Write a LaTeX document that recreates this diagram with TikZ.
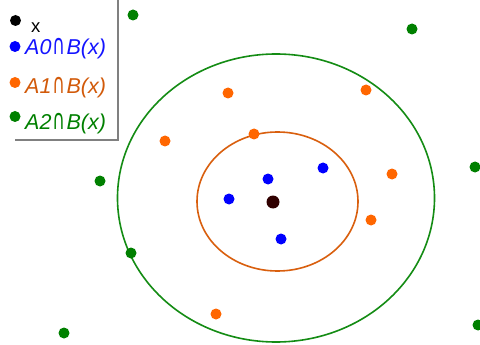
\documentclass[tikz,border=0pt]{standalone}
\usepackage{fontspec}
\usepackage{graphicx}
\setmainfont{Liberation Sans}
\newfontfamily\capfont{DejaVu Sans}
\newcommand{\mycap}{{\capfont\upshape\kern1pt\scalebox{0.8}[1.3]{∩}\kern1.5pt}}
\begin{document}
\begin{tikzpicture}[x=1pt,y=-1pt,
  dot/.style={circle,inner sep=0pt,minimum size=11pt},
  bdot/.style={dot,fill=blue},
  odot/.style={dot,fill=orangeA},
  gdot/.style={dot,fill=greenA},
  lab/.style={anchor=base west,inner sep=0pt,font=\fontsize{21.5}{21.5}\selectfont\itshape}]
\definecolor{orangeA}{RGB}{255,102,0}
\definecolor{orangeL}{RGB}{217,95,14}
\definecolor{orangeT}{RGB}{210,90,10}
\definecolor{greenA}{RGB}{0,128,0}
\definecolor{greenL}{RGB}{20,140,20}
\definecolor{blueT}{RGB}{20,20,255}
\definecolor{legline}{RGB}{128,128,128}
\path[use as bounding box,fill=white] (0,0) rectangle (480,345);
% circles
\draw[greenL,line width=1.6pt] (276,198) ellipse [x radius=158.5,y radius=144];
\draw[orangeL,line width=1.6pt] (277.5,201.5) ellipse [x radius=80.5,y radius=69.5];
% center
\node[dot,minimum size=13pt,fill={rgb,255:red,48;green,0;blue,0}] (c) at (273,202) {};
% blue points
\node[bdot] (b1) at (268,179) {};
\node[bdot] (b2) at (229,199) {};
\node[bdot] (b3) at (323,168) {};
\node[bdot] (b4) at (281,239) {};
% orange points
\node[odot] (o1) at (228,93) {};
\node[odot] (o2) at (366,90) {};
\node[odot] (o3) at (165,141) {};
\node[odot] (o4) at (254,134) {};
\node[odot] (o5) at (392,174) {};
\node[odot] (o6) at (371,220) {};
\node[odot] (o7) at (216,314) {};
% green points
\node[gdot] (g1) at (133,15) {};
\node[gdot] (g2) at (412,29) {};
\node[gdot] (g3) at (475,167) {};
\node[gdot] (g4) at (100,181) {};
\node[gdot] (g5) at (131,253) {};
\node[gdot] (g6) at (64,333) {};
\node[gdot] (g7) at (478,325) {};
% legend
\coordinate (lt) at (118,0);
\coordinate (lc) at (118,140);
\coordinate (lb) at (15,140);
\draw[legline,line width=1.2pt] (lt) -- (lc) -- (lb);
\node[dot,fill=black] (k0) at (15.5,20.5) {};
\node[anchor=base west,inner sep=0pt,font=\fontsize{18.5}{18.5}\selectfont] (t0) at (31,33) {x};
\node[bdot] (k1) at (15,46.5) {};
\node[lab,text=blueT] (t1) at (25,55) {A0\mycap B(x)};
\node[odot] (k2) at (15,82.5) {};
\node[lab,text=orangeT] (t2) at (25,94) {A1\mycap B(x)};
\node[gdot] (k3) at (15,116.5) {};
\node[lab,text=greenA] (t3) at (25,129) {A2\mycap B(x)};
\end{tikzpicture}
\end{document}
